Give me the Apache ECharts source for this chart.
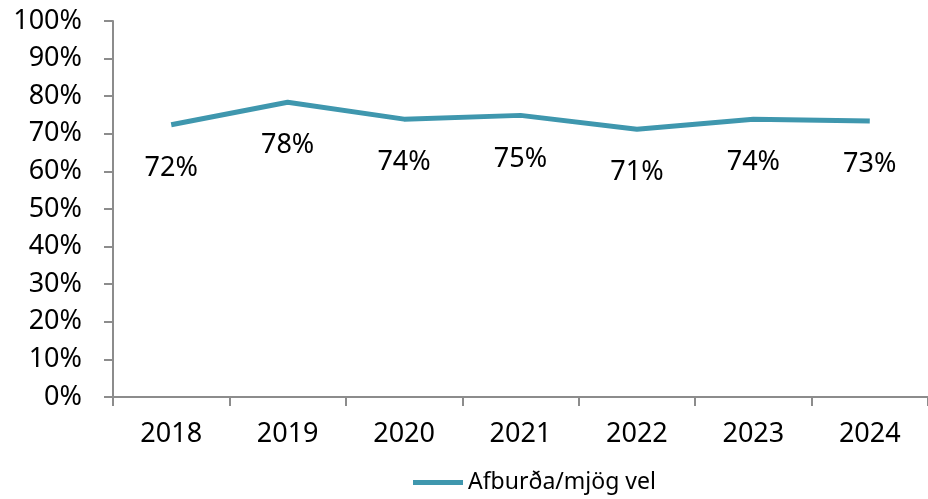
<!DOCTYPE html>
<html><head><meta charset="utf-8">
<script src="https://cdn.jsdelivr.net/npm/echarts@6/dist/echarts.min.js"></script>
<style>html,body{margin:0;padding:0;background:#fff}#c{width:928px;height:499px}</style>
</head><body><div id="c"></div>
<script>
const categories = ['2018','2019','2020','2021','2022','2023','2024'];
const values = [72.4, 78.4, 73.9, 74.9, 71.2, 73.9, 73.4];
const seriesName = 'Afburða/mjög vel';
const yTicks = [0,10,20,30,40,50,60,70,80,90,100];

const FONT = '"Noto Sans", sans-serif';
const chart = echarts.init(document.getElementById('c'));
chart.setOption({
  animation: false,
  textStyle: { fontFamily: FONT },
  grid: { left: 113, right: -4, top: 21, bottom: 102, containLabel: false },
  legend: {
    top: 471, left: 413, padding: 0,
    data: [{ name: seriesName, icon: 'rect' }],
    itemWidth: 50, itemHeight: 5, itemGap: 10,
    textStyle: { fontFamily: FONT, fontSize: 23, color: '#000' }
  },
  xAxis: {
    type: 'category', data: categories, boundaryGap: true,
    axisLine: { lineStyle: { color: '#8c8c8c', width: 2 } },
    axisTick: { show: true, length: 9, lineStyle: { color: '#8c8c8c', width: 2 }, alignWithLabel: false },
    axisLabel: { fontFamily: FONT, fontSize: 27, color: '#000', margin: 24 }
  },
  yAxis: {
    type: 'value', min: 0, max: 100, interval: 10,
    splitLine: { show: false },
    axisLine: { show: true, lineStyle: { color: '#8c8c8c', width: 2 } },
    axisTick: { show: true, length: 9, lineStyle: { color: '#8c8c8c', width: 2 } },
    axisLabel: { fontFamily: FONT, fontSize: 27, color: '#000', margin: 31,
      formatter: v => yTicks.includes(v) ? v + '%' : '' }
  },
  series: [{
    name: seriesName, type: 'line', data: values,
    symbol: 'circle', symbolSize: 0, showSymbol: true,
    lineStyle: { color: '#3f97ae', width: 5 },
    itemStyle: { color: '#3f97ae' },
    label: {
      show: true, position: 'bottom', distance: 30,
      fontFamily: FONT, fontSize: 27, color: '#000',
      formatter: p => Math.round(p.value) + '%'
    }
  }]
});
</script></body></html>
